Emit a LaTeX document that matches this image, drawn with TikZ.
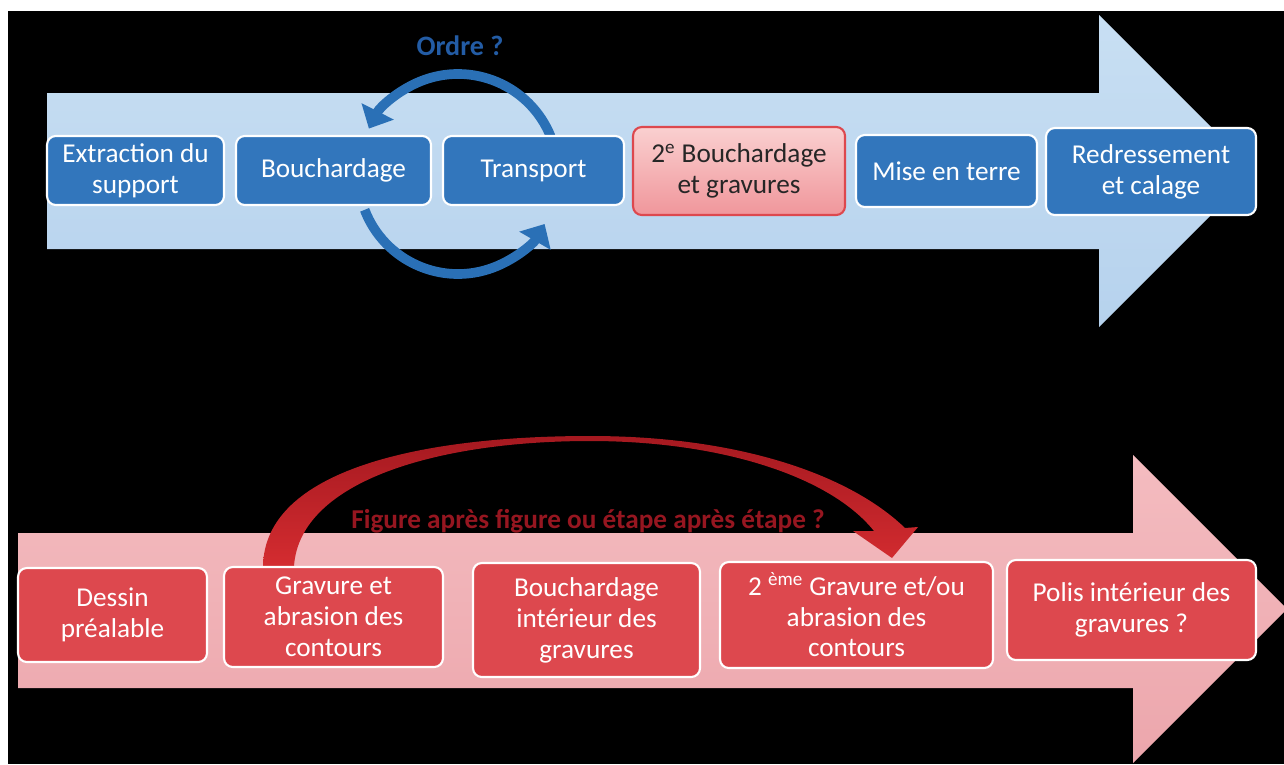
\documentclass[tikz,border=0pt]{standalone}
\usepackage{fontspec}
\setmainfont{Carlito}
\usetikzlibrary{arrows.meta}

\definecolor{shaftblue}{RGB}{200,223,243}
\definecolor{shaftbluedk}{RGB}{182,210,237}
\definecolor{stepblue}{RGB}{50,118,188}
\definecolor{cycblue}{RGB}{42,112,182}
\definecolor{ordreblue}{RGB}{35,92,165}
\definecolor{shaftpink}{RGB}{244,188,192}
\definecolor{shaftpinkdk}{RGB}{236,166,172}
\definecolor{stepred}{RGB}{221,72,78}
\definecolor{paleredtop}{RGB}{250,208,208}
\definecolor{paleredbot}{RGB}{240,150,155}
\definecolor{jumpred}{RGB}{212,44,48}
\definecolor{jumpreddk}{RGB}{165,25,32}
\definecolor{figred}{RGB}{150,22,32}

\tikzset{
  stepbox/.style={draw=white, line width=1.2pt, rounded corners=5pt,
    fill=stepblue, text=white, align=center, inner sep=0pt,
    font=\fontsize{15.5}{17.6}\selectfont},
  redbox/.style={stepbox, fill=stepred},
  palebox/.style={stepbox, draw=stepred, top color=paleredtop,
    bottom color=paleredbot, text=black!85},
  cycarrow/.style={draw=cycblue, line width=5.5pt,
    -{Triangle[width=20pt,length=11pt]}},
  question/.style={font=\bfseries\fontsize{16}{18}\selectfont}
}

\begin{document}
\begin{tikzpicture}[x=0.02cm, y=-0.02cm]
  % frame: white margin on top and left, black ground
  \useasboundingbox (0,0) rectangle (1284,764);
  \fill[white] (0,0) rectangle (1284,764);
  \fill[black] (8,11) rectangle (1284,764);

  % big process arrows
  \shade[top color=shaftblue, bottom color=shaftbluedk]
    (47,93) -- (1099,93) -- (1099,15) -- (1255,171) -- (1099,327)
    -- (1099,249) -- (47,249) -- cycle;
  \shade[top color=shaftpink, bottom color=shaftpinkdk]
    (18,533) -- (1133,533) -- (1133,455) -- (1287,609) -- (1133,763)
    -- (1133,688) -- (18,688) -- cycle;

  % order loop between Bouchardage and Transport
  \coordinate (cyc) at (458,174);
  \node[question, text=ordreblue] (ordre) at (460,46) {Ordre ?};
  \draw[cycarrow] ([shift={(-22:100)}]cyc) arc[start angle=-22, end angle=-153, radius=100];
  \draw[cycarrow] ([shift={(-201:100)}]cyc) arc[start angle=-201, end angle=-330, radius=100];

  % red jump arrow
  \coordinate (jumpL) at (263,566);
  \coordinate (jumpR) at (294,566);
  \coordinate (jumptip) at (892,558);
  \shade[top color=jumpreddk, bottom color=jumpred]
    (jumpL) .. controls (265,470) and (420,436) .. (590,436)
    .. controls (740,436) and (850,475) .. (905,528)
    -- (918,527) -- (jumptip) -- (853,531) -- (874,531)
    .. controls (830,476) and (720,441) .. (590,441)
    .. controls (440,441) and (300,480) .. (jumpR) -- cycle;
  \node[question, text=figred, font=\bfseries\fontsize{15.5}{18}\selectfont] (figq) at (588,521)
    {Figure après figure ou étape après étape ?};

  % top row
  \node[stepbox, minimum width=3.54cm, minimum height=1.38cm] (extr) at (135.5,170.5) {Extraction du\\support};
  \node[stepbox, minimum width=3.90cm, minimum height=1.38cm] (bouch) at (333.5,170.5) {Bouchardage};
  \node[stepbox, minimum width=3.62cm, minimum height=1.38cm] (transp) at (533.5,170.5) {Transport};
  \node[palebox, minimum width=4.24cm, minimum height=1.76cm] (bouch2) at (739,171) {2\textsuperscript{e} Bouchardage\\et gravures};
  \node[stepbox, minimum width=3.62cm, minimum height=1.44cm] (mise) at (946.5,171) {Mise en terre};
  \node[stepbox, minimum width=4.20cm, minimum height=1.74cm] (redr) at (1151,171.5) {Redressement\\et calage};

  % bottom row
  \node[redbox, minimum width=3.78cm, minimum height=1.88cm] (dessin) at (112.5,615) {Dessin\\préalable};
  \node[redbox, minimum width=4.38cm, minimum height=2.00cm] (grav) at (333.5,617) {Gravure et\\abrasion des\\contours};
  \node[redbox, minimum width=4.54cm, minimum height=2.28cm] (bouchint) at (586.5,620) {Bouchardage\\intérieur des\\gravures};
  \node[redbox, minimum width=5.46cm, minimum height=2.12cm] (grav2) at (856.5,615) {2 \textsuperscript{ème} Gravure et/ou\\abrasion des\\contours};
  \node[redbox, minimum width=4.98cm, minimum height=2.00cm] (polis) at (1131.5,610) {Polis intérieur des\\gravures ?};
\end{tikzpicture}
\end{document}
